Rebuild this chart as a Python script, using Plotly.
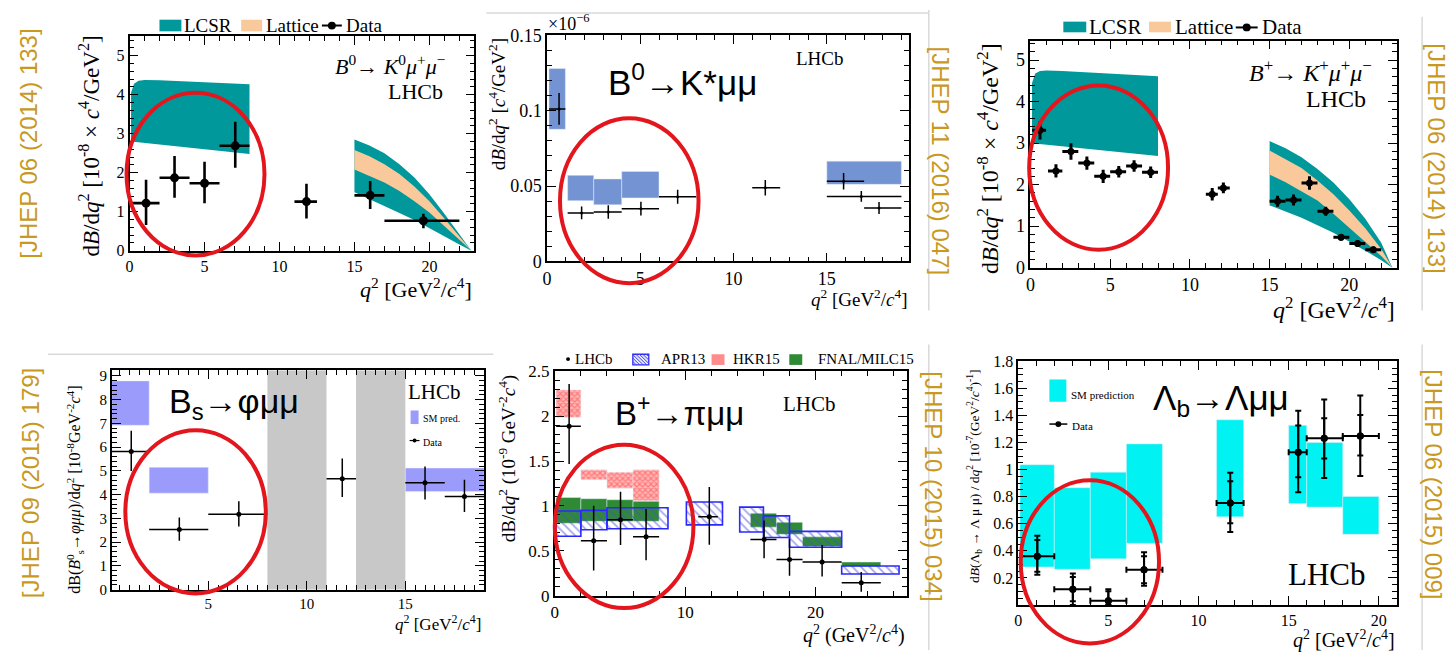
import plotly.graph_objects as go

W, H = 1449, 660
SERIF = "Liberation Serif"
SANS = "Liberation Sans"
GOLD = "#c9991f"
RED = "#e3161d"
TEAL = "#00989a"
PEACH = "#f9c99b"
APR_BLUE = "#2a2aff"
HKR_RED = "#ff3b3b"
FNAL_GREEN = "#2f8a35"

# ---------------- B0 -> K0 mu mu ----------------
k0_bin_lo = [0.1, 2.0, 4.0, 6.0, 11.0, 15.0, 17.0]
k0_bin_hi = [2.0, 4.0, 6.0, 8.0, 12.5, 17.0, 22.0]
k0_q2 = [1.1, 3.0, 5.0, 7.05, 11.8, 16.05, 19.6]
k0_val = [1.22, 1.87, 1.73, 2.69, 1.26, 1.42, 0.77]
k0_err_up = [0.60, 0.56, 0.55, 0.62, 0.46, 0.37, 0.18]
k0_err_dn = [0.56, 0.51, 0.51, 0.56, 0.43, 0.35, 0.19]

lcsr_low_q2 = [0.1, 0.3, 0.6, 1.0, 2.0, 4.0, 6.0, 8.0]
k0_lcsr_low_top = [4.05, 4.28, 4.36, 4.38, 4.37, 4.34, 4.30, 4.27]
k0_lcsr_low_bot = [2.80, 2.79, 2.78, 2.76, 2.72, 2.64, 2.56, 2.48]

high_q2 = [15.0, 16.0, 17.0, 18.0, 19.0, 20.0, 21.0, 22.0, 22.8]
k0_lcsr_high_top = [2.85, 2.70, 2.50, 2.22, 1.88, 1.45, 0.95, 0.42, 0.0]
k0_latt_high_top = [2.58, 2.42, 2.22, 1.97, 1.65, 1.27, 0.83, 0.36, 0.0]
k0_latt_high_bot = [2.08, 1.92, 1.75, 1.53, 1.27, 0.98, 0.64, 0.28, 0.0]
k0_lcsr_high_bot = [1.50, 1.33, 1.15, 0.97, 0.79, 0.58, 0.37, 0.16, 0.0]

# ---------------- B0 -> K* mu mu (x1e-6) ----------------
kst_bin_lo = [0.1, 1.1, 2.5, 4.0, 6.0, 11.0, 15.0, 15.0, 17.0]
kst_bin_hi = [0.98, 2.5, 4.0, 6.0, 8.0, 12.5, 17.0, 19.0, 19.0]
kst_q2 = [0.64, 1.85, 3.28, 5.03, 7.0, 11.7, 15.9, 16.85, 17.8]
kst_val = [0.1011, 0.0322, 0.0328, 0.0350, 0.0429, 0.0489, 0.0532, 0.0431, 0.0354]
kst_err = [0.0105, 0.0043, 0.0045, 0.0045, 0.0046, 0.0051, 0.0055, 0.0036, 0.0040]

kst_sm_lo = [0.1, 1.1, 2.5, 4.0, 15.0]
kst_sm_hi = [0.98, 2.5, 4.0, 6.0, 19.0]
kst_sm_min = [0.0876, 0.0403, 0.0376, 0.0421, 0.0511]
kst_sm_max = [0.1279, 0.0571, 0.0547, 0.0597, 0.0665]

# ---------------- B+ -> K+ mu mu ----------------
kp_bin_lo = [0.1, 1.1, 2, 3, 4, 5, 6, 7, 11.0, 11.75, 15, 16, 17, 18, 19, 20, 21]
kp_bin_hi = [0.98, 2, 3, 4, 5, 6, 7, 8, 11.75, 12.5, 16, 17, 18, 19, 20, 21, 22]
kp_q2 = [0.6, 1.6, 2.54, 3.54, 4.56, 5.54, 6.5, 7.54, 11.4, 12.1,
         15.5, 16.5, 17.5, 18.52, 19.48, 20.52, 21.5]
kp_val = [3.31, 2.33, 2.80, 2.52, 2.20, 2.31, 2.45, 2.30, 1.77, 1.92,
          1.60, 1.63, 2.04, 1.36, 0.73, 0.58, 0.43]
kp_err = [0.22, 0.16, 0.20, 0.16, 0.16, 0.14, 0.14, 0.14, 0.15, 0.13,
          0.13, 0.13, 0.16, 0.11, 0.08, 0.08, 0.08]

kp_lcsr_low_top = [4.45, 4.68, 4.74, 4.75, 4.74, 4.70, 4.66, 4.61]
kp_lcsr_low_bot = [3.00, 2.99, 2.98, 2.97, 2.93, 2.85, 2.77, 2.69]
kp_high_q2 = [15.0, 16.0, 17.0, 18.0, 19.0, 20.0, 21.0, 22.0, 22.7]
kp_lcsr_high_top = [3.05, 2.88, 2.66, 2.38, 2.05, 1.65, 1.18, 0.60, 0.0]
kp_latt_high_top = [2.82, 2.62, 2.40, 2.10, 1.77, 1.38, 0.95, 0.45, 0.0]
kp_latt_high_bot = [2.24, 2.06, 1.85, 1.62, 1.30, 0.97, 0.62, 0.28, 0.0]
kp_lcsr_high_bot = [1.50, 1.35, 1.20, 1.02, 0.84, 0.63, 0.41, 0.18, 0.0]

# ---------------- Bs -> phi mu mu ----------------
phi_bin_lo = [0.1, 2.0, 5.0, 11.0, 15.0, 17.0]
phi_bin_hi = [2.0, 5.0, 8.0, 12.5, 17.0, 19.0]
phi_q2 = [1.09, 3.53, 6.55, 11.8, 16.0, 18.0]
phi_val = [5.82, 2.53, 3.17, 4.67, 4.50, 3.92]
phi_err_up = [0.87, 0.51, 0.55, 0.85, 0.68, 0.71]
phi_err_dn = [0.83, 0.47, 0.51, 0.77, 0.71, 0.65]

phi_sm_lo = [0.1, 2.0, 15.0]
phi_sm_hi = [2.0, 5.0, 19.0]
phi_sm_min = [6.92, 4.06, 4.13]
phi_sm_max = [8.79, 5.15, 5.12]
phi_veto_lo = [8.0, 12.5]
phi_veto_hi = [11.0, 15.0]

# ---------------- B+ -> pi mu mu (x1e-9) ----------------
pi_bin_lo = [0.1, 2, 4, 6, 11, 15, 17, 19, 22]
pi_bin_hi = [2, 4, 6, 8, 12.5, 17, 19, 22, 25]
pi_q2 = [1.1, 2.98, 5.04, 7.0, 11.85, 16.05, 18.0, 20.5, 23.5]
pi_val = [1.886, 0.614, 0.848, 0.657, 0.88, 0.629, 0.406, 0.377, 0.147]
pi_err_up = [0.47, 0.39, 0.31, 0.31, 0.33, 0.21, 0.23, 0.19, 0.12]
pi_err_dn = [0.42, 0.33, 0.28, 0.26, 0.31, 0.21, 0.18, 0.16, 0.10]

apr_lo = [0.1, 2.0, 4.0, 10.09, 14.18, 16.0, 18.0, 22.0]
apr_hi = [2.0, 4.0, 8.68, 12.86, 16.0, 18.0, 22.0, 26.4]
apr_min = [0.664, 0.736, 0.747, 0.79, 0.711, 0.65, 0.542, 0.244]
apr_max = [0.944, 0.951, 0.98, 1.045, 0.987, 0.89, 0.718, 0.334]

hkr_lo = [0.1, 2, 4, 6]
hkr_hi = [2, 4, 6, 8]
hkr_min = [1.986, 1.293, 1.196, 1.059]
hkr_max = [2.29, 1.404, 1.375, 1.404]

fnal_lo = [0.1, 2, 4, 6, 15, 17, 19, 22]
fnal_hi = [2, 4, 6, 8, 17, 19, 22, 25]
fnal_min = [0.808, 0.83, 0.83, 0.83, 0.765, 0.685, 0.55, 0.327]
fnal_max = [1.095, 1.081, 1.07, 1.052, 0.919, 0.819, 0.657, 0.377]

# ---------------- Lambda_b -> Lambda mu mu (x1e-7) ----------------
lb_bin_lo = [0.1, 2, 4, 6, 11, 15, 16, 18]
lb_bin_hi = [2, 4, 6, 8, 12.5, 16, 18, 20]
lb_q2 = [1.06, 3.03, 5.0, 6.98, 11.76, 15.53, 16.97, 18.97]
lb_val = [0.36, 0.117, 0.031, 0.26, 0.754, 1.128, 1.231, 1.248]
lb_tot_up = [0.151, 0.116, 0.086, 0.129, 0.222, 0.306, 0.287, 0.299]
lb_tot_dn = [0.136, 0.117, 0.031, 0.117, 0.215, 0.296, 0.293, 0.295]
lb_stat_up = [0.12, 0.09, 0.07, 0.10, 0.16, 0.198, 0.148, 0.155]
lb_stat_dn = [0.115, 0.09, 0.031, 0.10, 0.151, 0.184, 0.148, 0.144]

lb_sm_lo = [0.1, 2, 4, 6, 11, 15, 16, 18]
lb_sm_hi = [2, 4, 6, 8, 12.5, 16, 18, 20]
lb_sm_min = [0.281, 0.264, 0.341, 0.456, 0.651, 0.749, 0.723, 0.522]
lb_sm_max = [1.036, 0.866, 0.981, 1.19, 1.368, 1.327, 1.2, 0.802]

# ---------------- subplot geometry (page pixels) ----------------
FRAMES = {
    1: (125, 471, 27, 248.3),
    2: (544, 907, 26, 259.3),
    3: (1029, 1397, 31.6, 265.7),
    4: (107.1, 480.8, 371.7, 597.7),
    5: (551.7, 905, 372.3, 604.3),
    6: (1016.7, 1396.7, 362.3, 613.6),
}
RANGES = {
    1: ((0, 23), (0, 5.5)),
    2: ((0, 19.4), (0, 0.15)),
    3: ((0, 23), (0, 5.47)),
    4: ((0.1, 19), (0, 9.23)),
    5: ((0, 27), (0, 2.5)),
    6: ((0, 21), (0, 1.8)),
}
# red ellipses around the low-q2 region, in data units: x0, x1, y0, y1
ELLIPSES = {
    1: (-0.2, 9.0, -0.12, 4.05),
    2: (0.69, 8.12, -0.0144, 0.0949),
    3: (-0.08, 8.63, 0.43, 4.39),
    4: (0.79, 7.92, -0.16, 6.71),
    5: (0.0, 10.63, -0.134, 1.68),
    6: (0.14, 7.81, -0.284, 0.921),
}


def xa(i):
    return "x" if i == 1 else f"x{i}"


def ya(i):
    return "y" if i == 1 else f"y{i}"


def px(x):
    return x / W


def py(y):
    return 1 - y / H


def to_page(i, x, y):
    l, r, t, b = FRAMES[i]
    (x0, x1), (y0, y1) = RANGES[i]
    return (l + (x - x0) / (x1 - x0) * (r - l),
            b - (y - y0) / (y1 - y0) * (b - t))


fig = go.Figure()


def add_points(i, q2, val, lo, hi, up, dn, size, thick, cap=0, showx=True):
    fig.add_trace(go.Scatter(
        x=q2, y=val, mode="markers",
        marker=dict(color="black", size=size),
        error_x=dict(type="data", symmetric=False,
                     array=[h - q for q, h in zip(q2, hi)],
                     arrayminus=[q - l for q, l in zip(q2, lo)],
                     thickness=thick, width=cap, color="black", visible=showx),
        error_y=dict(type="data", symmetric=False, array=up, arrayminus=dn,
                     thickness=thick, width=cap, color="black"),
        xaxis=xa(i), yaxis=ya(i), showlegend=False, hoverinfo="skip"))


def add_boxes(i, lo, hi, ymin, ymax, marker):
    fig.add_trace(go.Bar(
        x=[(a + b) / 2 for a, b in zip(lo, hi)],
        width=[b - a for a, b in zip(lo, hi)],
        base=ymin, y=[t - m for m, t in zip(ymin, ymax)],
        marker=marker, xaxis=xa(i), yaxis=ya(i),
        showlegend=False, hoverinfo="skip"))


def add_band(i, xs, top, bot, color):
    fig.add_trace(go.Scatter(
        x=list(xs) + list(xs)[::-1], y=list(top) + list(bot)[::-1],
        fill="toself", fillcolor=color, mode="lines", line=dict(width=0),
        xaxis=xa(i), yaxis=ya(i), showlegend=False, hoverinfo="skip"))


def text(x, y, s, size, family=SERIF, color="black", xanchor="left",
         yanchor="middle", angle=0):
    fig.add_annotation(x=px(x), y=py(y), xref="paper", yref="paper", text=s,
                       showarrow=False, textangle=angle, xanchor=xanchor,
                       yanchor=yanchor, font=dict(size=size, family=family, color=color))


def rect(x0, y0, x1, y1, color, line=None):
    fig.add_shape(type="rect", xref="paper", yref="paper", x0=px(x0), x1=px(x1),
                  y0=py(y0), y1=py(y1), fillcolor=color,
                  line=dict(width=0) if line is None else line)


def seg(x0, y0, x1, y1, color, width):
    fig.add_shape(type="line", xref="paper", yref="paper", x0=px(x0), x1=px(x1),
                  y0=py(y0), y1=py(y1), line=dict(color=color, width=width))


def dot(x, y, r):
    fig.add_shape(type="circle", xref="paper", yref="paper", x0=px(x - r), x1=px(x + r),
                  y0=py(y - r), y1=py(y + r), fillcolor="black", line=dict(width=0))


def hatch_swatch(x0, y0, x1, y1, color, step):
    # back-slash hatching clipped to the swatch rectangle
    h = y1 - y0
    s = x0 - h
    while s < x1:
        ax, ay = s, y0
        bx, by = s + h, y1
        if ax < x0:
            ay += x0 - ax
            ax = x0
        if bx > x1:
            by -= bx - x1
            bx = x1
        if bx > ax:
            seg(ax, ay, bx, by, color, 1)
        s += step


# ---- panel 1: B0 -> K0 mu mu ----
add_band(1, lcsr_low_q2, k0_lcsr_low_top, k0_lcsr_low_bot, TEAL)
add_band(1, high_q2, k0_lcsr_high_top, k0_lcsr_high_bot, TEAL)
add_band(1, high_q2, k0_latt_high_top, k0_latt_high_bot, PEACH)
add_points(1, k0_q2, k0_val, k0_bin_lo, k0_bin_hi, k0_err_up, k0_err_dn, 9, 2.6)

# ---- panel 2: B0 -> K* mu mu ----
add_boxes(2, kst_sm_lo, kst_sm_hi, kst_sm_min, kst_sm_max, dict(color="#7393d3"))
add_points(2, kst_q2, kst_val, kst_bin_lo, kst_bin_hi, kst_err, kst_err, 3, 1.5)

# ---- panel 3: B+ -> K+ mu mu ----
add_band(3, lcsr_low_q2, kp_lcsr_low_top, kp_lcsr_low_bot, TEAL)
add_band(3, kp_high_q2, kp_lcsr_high_top, kp_lcsr_high_bot, TEAL)
add_band(3, kp_high_q2, kp_latt_high_top, kp_latt_high_bot, PEACH)
add_points(3, kp_q2, kp_val, kp_bin_lo, kp_bin_hi, kp_err, kp_err, 7, 3)

# ---- panel 4: Bs -> phi mu mu ----
for a, b in zip(phi_veto_lo, phi_veto_hi):
    fig.add_shape(type="rect", xref="x4", yref="y4 domain", x0=a, x1=b, y0=0, y1=1,
                  fillcolor="#c8c8c8", line=dict(width=0), layer="below")
add_boxes(4, phi_sm_lo, phi_sm_hi, phi_sm_min, phi_sm_max, dict(color="#9b9bfb"))
add_points(4, phi_q2, phi_val, phi_bin_lo, phi_bin_hi, phi_err_up, phi_err_dn, 5, 1.5)

# ---- panel 5: B+ -> pi mu mu ----
add_boxes(5, hkr_lo, hkr_hi, hkr_min, hkr_max,
          dict(color="rgba(0,0,0,0)",
               pattern=dict(shape="x", fgcolor=HKR_RED, bgcolor="#ffb6b6", size=4, solidity=0.5)))
add_boxes(5, fnal_lo, fnal_hi, fnal_min, fnal_max, dict(color=FNAL_GREEN))
add_boxes(5, apr_lo, apr_hi, apr_min, apr_max,
          dict(color="rgba(0,0,0,0)",
               pattern=dict(shape="\\", fgcolor="#4b4bd6", bgcolor="rgba(0,0,0,0)", size=6, solidity=0.3),
               line=dict(color=APR_BLUE, width=1.6)))
add_points(5, pi_q2, pi_val, pi_bin_lo, pi_bin_hi, pi_err_up, pi_err_dn, 5, 1.5)

# ---- panel 6: Lambda_b -> Lambda mu mu ----
add_boxes(6, lb_sm_lo, lb_sm_hi, lb_sm_min, lb_sm_max, dict(color="#00f2f2"))
add_points(6, lb_q2, lb_val, lb_bin_lo, lb_bin_hi, lb_tot_up, lb_tot_dn, 7, 2, cap=3)
add_points(6, lb_q2, lb_val, lb_bin_lo, lb_bin_hi, lb_stat_up, lb_stat_dn, 7, 2, cap=3,
           showx=False)

# ---------------- axes ----------------
TICKS = {
    1: (5, 1, 1, 0.2, 16),
    2: (5, 1, 0.05, 0.01, 18),
    3: (5, 1, 1, 0.2, 18),
    4: (5, 0.5, 1, 0.2, 15),
    5: (10, 2, 0.5, 0.1, 17),
    6: (5, 1, 0.2, 0.05, 16),
}
layout = {}
for i in range(1, 7):
    l, r, t, b = FRAMES[i]
    (x0, x1), (y0, y1) = RANGES[i]
    xd, xm, yd, ym, fs = TICKS[i]
    common = dict(showline=True, linecolor="black", linewidth=1.6, mirror="allticks",
                  ticks="inside", ticklen=9, tickwidth=1.3, tickcolor="black",
                  showgrid=False, zeroline=False, fixedrange=True,
                  tickfont=dict(family=SERIF, size=fs, color="black"))
    key = "" if i == 1 else str(i)
    layout["xaxis" + key] = dict(
        domain=[px(l), px(r)], range=[x0, x1], anchor=ya(i), tick0=0, dtick=xd,
        minor=dict(ticks="inside", ticklen=5, tickwidth=1, tickcolor="black", tick0=0, dtick=xm),
        **common)
    layout["yaxis" + key] = dict(
        domain=[py(b), py(t)], range=[y0, y1], anchor=xa(i), tick0=0, dtick=yd,
        minor=dict(ticks="inside", ticklen=5, tickwidth=1, tickcolor="black", tick0=0, dtick=ym),
        **common)

lb_ticks = [0, 0.2, 0.4, 0.6, 0.8, 1.0, 1.2, 1.4, 1.6, 1.8]
layout["yaxis6"].update(tickmode="array", tickvals=lb_ticks,
                        ticktext=[""] + [f"{v:g}" for v in lb_ticks[1:]])
layout["yaxis6"]["minor"].update(tickmode="linear")

fig.update_layout(
    width=W, height=H, margin=dict(l=0, r=0, t=0, b=0),
    paper_bgcolor="white", plot_bgcolor="white", barmode="overlay",
    font=dict(family=SERIF, color="black"), showlegend=False,
    **layout)

# ---------------- red ellipses ----------------
for i, (ex0, ex1, ey0, ey1) in ELLIPSES.items():
    ax0, ay0 = to_page(i, ex0, ey0)
    ax1, ay1 = to_page(i, ex1, ey1)
    fig.add_shape(type="circle", xref="paper", yref="paper", x0=px(ax0), x1=px(ax1),
                  y0=py(ay0), y1=py(ay1), line=dict(color=RED, width=4))

# ---------------- axis titles ----------------
Q2_SQ = "<i>q</i><sup>2</sup> [GeV<sup>2</sup>/<i>c</i><sup>4</sup>]"
text(85, 140, "d<i>B</i>/d<i>q</i><sup>2</sup> [10<sup>-8</sup> × <i>c</i><sup>4</sup>/GeV<sup>2</sup>]",
     23, xanchor="center", angle=-90)
text(471, 287, Q2_SQ, 22, xanchor="right")
text(494, 97, "d<i>B</i>/d<i>q</i><sup>2</sup> [<i>c</i><sup>4</sup>/GeV<sup>2</sup>]",
     19, xanchor="center", angle=-90)
text(907, 297, Q2_SQ, 19, xanchor="right")
text(543, 13, "×10<sup>−6</sup>", 18)
text(987, 153, "d<i>B</i>/d<i>q</i><sup>2</sup> [10<sup>-8</sup> × <i>c</i><sup>4</sup>/GeV<sup>2</sup>]",
     24, xanchor="center", angle=-90)
text(1397, 307, Q2_SQ, 24, xanchor="right")
text(70, 495, "dB(<i>B</i><sup>0</sup><sub>s</sub>→<i>φμμ</i>)/d<i>q</i><sup>2</sup> "
     "[10<sup>-8</sup>GeV<sup>-2</sup><i>c</i><sup>4</sup>]", 16, xanchor="center", angle=-90)
text(480, 632, Q2_SQ, 17, xanchor="right")
text(505, 463, "dB/d<i>q</i><sup>2</sup> (10<sup>-9</sup> GeV<sup>-2</sup><i>c</i><sup>4</sup>)",
     19, xanchor="center", angle=-90)
text(905, 644, "<i>q</i><sup>2</sup> (GeV<sup>2</sup>/<i>c</i><sup>4</sup>)", 20, xanchor="right")
text(973, 481, "d<i>B</i>(Λ<sub>b</sub> → Λ μ μ) / d<i>q</i><sup>2</sup> "
     "[10<sup>-7</sup>(GeV<sup>2</sup>/<i>c</i><sup>4</sup>)<sup>-1</sup>]", 13.5,
     xanchor="center", angle=-90)
text(1397, 649, Q2_SQ, 20, xanchor="right")

# ---------------- in-plot labels ----------------
text(445, 57, "<i>B</i><sup>0</sup>→ <i>K</i><sup>0</sup><i>μ</i><sup>+</sup><i>μ</i><sup>−</sup>",
     22, xanchor="right")
text(442, 84, "LHCb", 22, xanchor="right")
text(1374, 63, "<i>B</i><sup>+</sup>→ <i>K</i><sup>+</sup><i>μ</i><sup>+</sup><i>μ</i><sup>−</sup>",
     24, xanchor="right")
text(1368, 92, "LHCb", 24, xanchor="right")
text(792, 50, "LHCb", 19)
text(402, 394, "LHCb", 21)
text(779, 406, "LHCb", 21)
text(1368, 582, "LHCb", 31, xanchor="right")

text(603, 72, "B<sup>0</sup>→K*μμ", 35, family=SANS)
text(163, 406, "B<sub>s</sub>→φμμ", 34, family=SANS)
text(610, 414, "B<sup>+</sup>→πμμ", 33, family=SANS)
text(1150, 402, "Λ<sub>b</sub>→Λμμ", 35, family=SANS)

# ---------------- legends ----------------
# panel 1
rect(155, 10, 177, 22, TEAL)
text(178, 16, "LCSR", 19)
rect(237, 10, 258, 22, PEACH)
text(260, 16, "Lattice", 19)
seg(318, 16, 338, 16, "black", 2)
dot(328, 16, 4)
text(340, 16, "Data", 19)
# panel 3
rect(1062, 12, 1085, 23, TEAL)
text(1086, 18, "LCSR", 21)
rect(1148, 12, 1170, 23, PEACH)
text(1172, 18, "Lattice", 21)
seg(1235, 18, 1257, 18, "black", 2)
dot(1246, 18, 4)
text(1259, 18, "Data", 21)
# panel 4
rect(407, 413, 415, 427, "#9b9bfb")
text(417, 421, "SM pred.", 10)
seg(406, 444, 416, 444, "black", 1.2)
dot(411, 444, 2)
text(417, 446, "Data", 10)
# panel 5
dot(565, 360, 2)
text(570, 360, "LHCb", 15)
rect(630, 355, 646, 366, "#e4e4fb", line=dict(color=APR_BLUE, width=1.3))
hatch_swatch(630, 355, 646, 366, "#4b4bd6", 3.5)
text(656, 360, "APR13", 15)
rect(709, 355, 722, 366, "#ff8c8c")
text(729, 360, "HKR15", 15)
rect(787, 355, 800, 366, FNAL_GREEN)
text(814, 360, "FNAL/MILC15", 15)
# panel 6
rect(1048, 381, 1065, 404, "#00f2f2")
text(1068, 397, "SM prediction", 11)
seg(1048, 427, 1066, 427, "black", 1.5)
dot(1057, 427, 3)
text(1069, 429, "Data", 11)

# ---------------- journal references ----------------
text(24, 138, "[JHEP 06 (2014) 133]", 24, family=SANS, color=GOLD, xanchor="center", angle=-90)
text(939, 156, "[JHEP 11 (2016) 047]", 24, family=SANS, color=GOLD, xanchor="center", angle=90)
text(1437, 153, "[JHEP 06 (2014) 133]", 24, family=SANS, color=GOLD, xanchor="center", angle=90)
text(25, 488, "[JHEP 09 (2015) 179]", 24, family=SANS, color=GOLD, xanchor="center", angle=-90)
text(932, 491, "[JHEP 10 (2015) 034]", 24, family=SANS, color=GOLD, xanchor="center", angle=90)
text(1434, 489, "[JHEP 06 (2015) 009]", 24, family=SANS, color=GOLD, xanchor="center", angle=90)

# ---------------- thin separators between the slide pictures ----------------
SEP = "#d9d9d9"
seg(483, 3, 927, 3, SEP, 1.5)
seg(927, 0, 927, 310, SEP, 1.5)
seg(1422, 7, 1422, 310, SEP, 1.5)
seg(43, 355, 490, 355, SEP, 1.5)
seg(927, 345, 927, 660, SEP, 1.5)
seg(1422, 345, 1422, 660, SEP, 1.5)

fig.write_html("out.html")
